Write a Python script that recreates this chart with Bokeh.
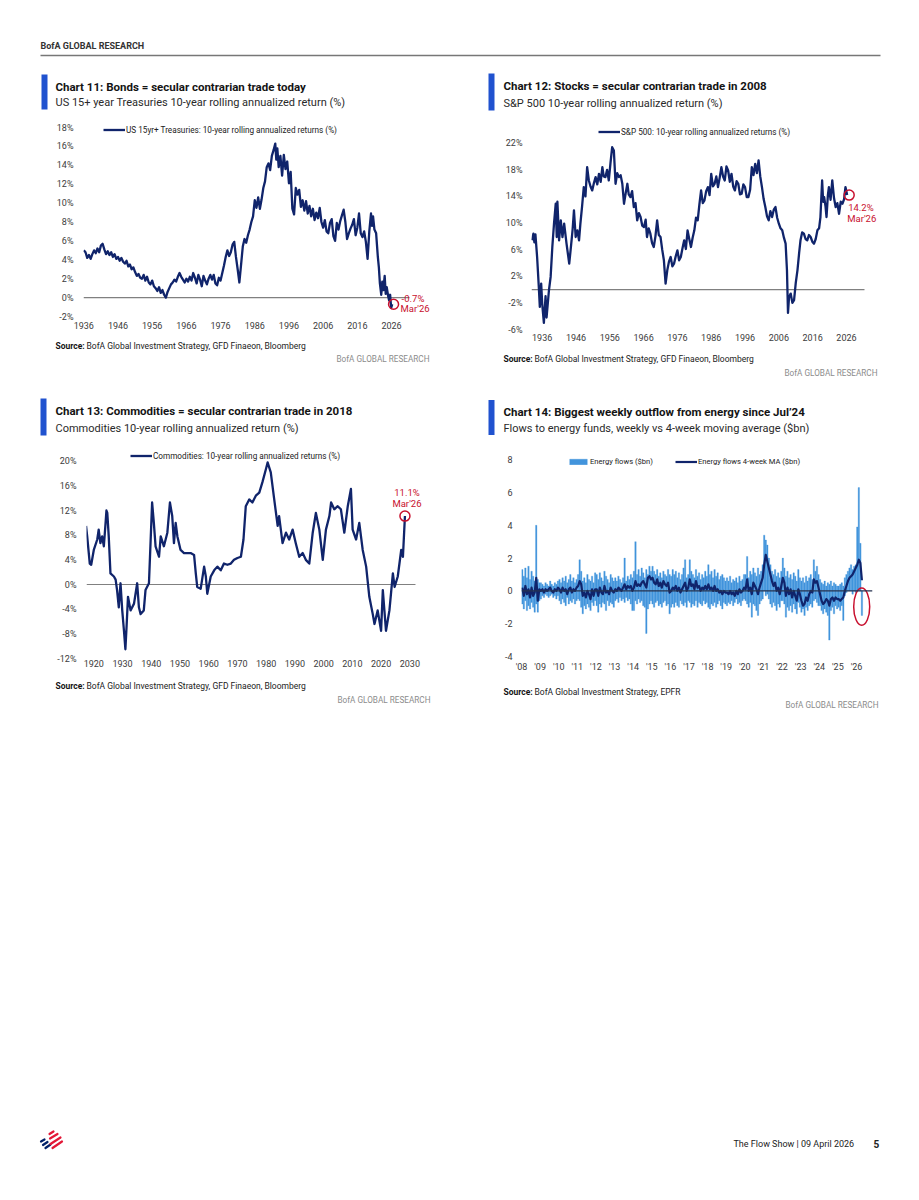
from bokeh.plotting import figure
from bokeh.layouts import column, row
from bokeh.models import Label, Span, Legend, LegendItem, FixedTicker, Range1d
from bokeh.core.properties import value
from bokeh.embed import file_html
from bokeh.resources import INLINE

FONT = "Roboto"
NAVY = "#10246b"
FLOW_BLUE = "#4294dc"
RED = "#c8102e"
ACCENT = "#2052cf"
TICK_TXT = "#3c3c3c"
TITLE_TXT = "#141414"
GRAY = "#8c8c8c"

# ---------------- Chart 11: US 15yr+ Treasuries ----------------
bond_years = [1936.0, 1936.5, 1937.0, 1937.5, 1938.0, 1938.5, 1939.0, 1939.5, 1940.0, 1940.5,
              1941.0, 1941.5, 1942.0, 1942.5, 1943.0, 1943.5, 1944.0, 1944.5, 1945.0, 1945.5,
              1946.0, 1946.5, 1947.0, 1947.5, 1948.0, 1948.5, 1949.0, 1949.5, 1950.0, 1950.5,
              1951.0, 1951.5, 1952.0, 1952.5, 1953.0, 1953.5, 1954.0, 1954.5, 1955.0, 1955.5,
              1956.0, 1956.5, 1957.0, 1957.5, 1958.0, 1958.5, 1959.0, 1959.5, 1960.0, 1960.5,
              1961.0, 1961.5, 1962.0, 1962.5, 1963.0, 1963.5, 1964.0, 1964.5, 1965.0, 1965.5,
              1966.0, 1966.5, 1967.0, 1967.5, 1968.0, 1968.5, 1969.0, 1969.5, 1970.0, 1970.5,
              1971.0, 1971.5, 1972.0, 1972.5, 1973.0, 1973.5, 1974.0, 1974.5, 1975.0, 1975.5,
              1976.0, 1976.5, 1977.0, 1977.5, 1978.0, 1978.5, 1979.0, 1979.5, 1980.0, 1980.5,
              1981.0, 1981.5, 1982.0, 1982.5, 1983.0, 1983.5, 1984.0, 1984.5, 1985.0, 1985.5,
              1986.0, 1986.5, 1987.0, 1987.5, 1988.0, 1988.5, 1989.0, 1989.5, 1990.0, 1990.5,
              1991.0, 1991.5, 1992.0, 1992.3, 1992.6, 1993.0, 1993.5, 1994.0, 1994.5, 1995.0,
              1995.5, 1996.0, 1996.5, 1997.0, 1997.5, 1998.0, 1998.5, 1999.0, 1999.5, 2000.0,
              2000.5, 2001.0, 2001.5, 2002.0, 2002.5, 2003.0, 2003.5, 2004.0, 2004.5, 2005.0,
              2005.5, 2006.0, 2006.5, 2007.0, 2007.5, 2008.0, 2008.5, 2009.0, 2009.5, 2010.0,
              2010.5, 2011.0, 2011.5, 2012.0, 2012.5, 2013.0, 2013.5, 2014.0, 2014.5, 2015.0,
              2015.5, 2016.0, 2016.5, 2017.0, 2017.5, 2018.0, 2018.5, 2019.0, 2019.5, 2020.0,
              2020.3, 2020.6, 2021.0, 2021.5, 2022.0, 2022.3, 2022.6, 2023.0, 2023.3, 2023.6,
              2024.0, 2024.3, 2024.6, 2025.0, 2025.3, 2025.6, 2025.9, 2026.2]
bond_returns = [5.0, 4.8, 4.2, 4.5, 4.1, 4.6, 5.0, 4.7, 5.2, 4.8,
                5.5, 5.7, 5.1, 4.6, 4.9, 4.5, 4.8, 4.3, 4.6, 4.1,
                4.3, 3.9, 4.2, 3.8, 3.6, 3.9, 3.3, 3.5, 3.0, 3.2,
                2.7, 2.3, 2.5, 2.1, 2.0, 2.4, 1.8, 2.2, 1.6, 1.4,
                1.8, 1.2, 1.0, 0.7, 1.1, 0.5, 0.8, 0.3, 0.0, 0.6,
                1.0, 1.4, 1.6, 1.9, 1.7, 2.2, 2.6, 2.2, 1.9, 1.6,
                2.0, 1.7, 2.2, 1.8, 2.6, 2.1, 1.5, 2.4, 1.9, 1.2,
                2.3, 1.8, 1.4, 2.0, 2.4, 1.9, 2.4, 1.5, 1.3, 2.1,
                1.8, 2.6, 3.4, 4.3, 5.0, 4.4, 4.8, 5.6, 5.9, 4.3,
                3.0, 1.6, 3.5, 5.4, 6.2, 5.8, 6.6, 7.2, 8.0, 8.6,
                10.3, 9.5, 10.6, 9.4, 10.4, 11.6, 12.3, 13.8, 14.2, 13.5,
                15.0, 15.6, 16.3, 14.6, 15.8, 13.8, 15.0, 12.9, 15.1, 13.6,
                14.4, 12.1, 13.3, 9.4, 8.8, 11.6, 10.9, 11.4, 9.6, 10.3,
                9.2, 10.2, 8.9, 9.7, 8.6, 9.4, 8.2, 9.0, 8.4, 9.5,
                8.0, 7.4, 8.2, 7.0, 6.8, 7.9, 8.3, 6.5, 6.0, 7.9,
                7.2, 8.1, 8.7, 9.3, 8.0, 6.2, 6.8, 7.3, 7.7, 8.3,
                6.6, 7.4, 8.9, 6.8, 6.4, 7.0, 5.9, 4.1, 7.0, 8.9,
                7.6, 8.6, 7.2, 6.8, 4.3, 3.2, 1.5, 0.3, 1.7, 0.8,
                2.3, 0.4, 1.1, 0.2, -0.3, 0.3, -1.1, -0.7]
bond_y_ticks = [-2, 0, 2, 4, 6, 8, 10, 12, 14, 16, 18]
bond_x_ticks = [1936, 1946, 1956, 1966, 1976, 1986, 1996, 2006, 2016, 2026]
bond_axis_span = (1935.91, 2031.26)
bond_last = (2026.6, -0.7)
bond_last_labels = ["-0.7%", "Mar'26"]

# ---------------- Chart 12: S&P 500 ----------------
spx_years = [1933.0, 1933.4, 1933.7, 1934.0, 1934.5, 1935.0, 1935.3, 1935.7, 1936.0, 1936.5,
             1937.0, 1937.3, 1938.0, 1938.5, 1939.0, 1939.5, 1940.0, 1940.3, 1940.5, 1941.0,
             1941.5, 1942.0, 1942.5, 1943.2, 1944.0, 1944.5, 1945.0, 1945.4, 1945.9, 1946.4,
             1946.9, 1947.3, 1947.8, 1948.3, 1948.8, 1949.3, 1949.8, 1950.3, 1950.8, 1951.3,
             1951.8, 1952.3, 1952.8, 1953.3, 1953.8, 1954.2, 1954.7, 1955.2, 1955.7, 1956.2,
             1956.7, 1957.2, 1957.7, 1958.2, 1958.7, 1959.2, 1959.7, 1960.2, 1960.7, 1961.2,
             1961.6, 1962.1, 1962.6, 1963.1, 1963.6, 1964.1, 1964.6, 1965.1, 1965.6, 1966.1,
             1966.6, 1967.0, 1967.5, 1968.0, 1968.5, 1969.0, 1969.5, 1970.0, 1970.5, 1971.0,
             1971.5, 1972.0, 1972.5, 1973.0, 1973.5, 1974.0, 1974.5, 1975.0, 1975.5, 1976.0,
             1976.5, 1977.0, 1977.5, 1978.0, 1978.5, 1979.0, 1979.5, 1980.0, 1980.5, 1981.0,
             1981.5, 1982.0, 1982.5, 1983.0, 1983.5, 1984.0, 1984.5, 1985.0, 1985.5, 1986.0,
             1986.5, 1987.0, 1987.5, 1988.0, 1988.5, 1989.0, 1989.5, 1990.0, 1990.5, 1991.0,
             1991.5, 1992.0, 1992.5, 1993.0, 1993.5, 1994.0, 1994.5, 1995.0, 1995.5, 1996.0,
             1996.5, 1997.0, 1997.5, 1998.0, 1998.5, 1999.0, 1999.5, 2000.0, 2000.5, 2001.0,
             2001.5, 2002.0, 2002.5, 2003.0, 2003.5, 2004.0, 2004.5, 2005.0, 2005.5, 2006.0,
             2006.5, 2007.0, 2007.5, 2008.0, 2008.4, 2008.7, 2009.0, 2009.5, 2010.0, 2010.5,
             2011.0, 2011.5, 2012.0, 2012.4, 2012.9, 2013.4, 2013.9, 2014.4, 2014.9, 2015.4,
             2015.9, 2016.4, 2016.9, 2017.4, 2017.9, 2018.3, 2018.8, 2019.1, 2019.4, 2019.8,
             2020.1, 2020.5, 2020.8, 2021.3, 2021.8, 2022.3, 2022.8, 2023.3, 2023.8, 2024.3,
             2024.8, 2025.3, 2025.7, 2026.2]
spx_returns = [7.4, 8.4, 7.1, 8.3, 4.9, 0.4, -2.6, 0.9, -2.1, -5.0,
               -1.0, -4.2, -0.1, 1.9, 6.4, 9.9, 12.9, 7.9, 13.2, 7.4,
               10.4, 7.9, 9.9, 6.9, 3.9, 6.4, 9.0, 11.9, 7.9, 8.9,
               7.4, 9.9, 12.5, 15.4, 14.0, 18.4, 16.4, 15.5, 14.9, 16.0,
               16.9, 15.8, 17.4, 16.2, 18.4, 17.0, 16.9, 18.0, 16.4, 19.0,
               21.4, 20.9, 15.9, 17.5, 16.9, 17.2, 15.9, 12.9, 14.5, 15.9,
               14.3, 13.9, 14.8, 12.4, 13.0, 10.4, 11.5, 10.9, 9.6, 9.4,
               10.5, 7.9, 9.2, 8.4, 7.0, 6.4, 8.0, 10.4, 8.2, 7.9,
               6.0, 4.4, 0.9, 2.9, 4.2, 4.9, 3.5, 3.9, 5.0, 5.9,
               4.4, 4.9, 6.2, 7.4, 6.1, 8.9, 7.6, 6.4, 7.8, 8.9,
               10.8, 10.4, 12.8, 14.9, 13.0, 13.4, 14.8, 15.4, 14.2, 17.4,
               15.5, 15.9, 17.0, 15.4, 16.8, 18.4, 17.0, 16.4, 18.5, 17.9,
               16.2, 17.4, 15.5, 14.9, 16.3, 15.9, 14.3, 14.4, 15.8, 15.4,
               13.9, 13.9, 15.0, 18.4, 17.2, 18.9, 17.5, 19.4, 17.0, 15.4,
               13.6, 12.4, 11.0, 10.4, 11.8, 10.9, 12.0, 12.4, 10.8, 9.9,
               9.2, 8.9, 7.8, 6.9, 2.9, -3.5, -1.2, -0.6, -2.0, -1.6,
               1.0, 2.9, 5.5, 7.4, 8.6, 8.4, 7.6, 7.4, 8.2, 7.9,
               7.2, 6.9, 7.6, 8.9, 9.2, 10.9, 16.4, 13.2, 13.9, 12.5,
               10.9, 14.2, 15.4, 13.5, 16.4, 13.8, 12.4, 13.0, 11.4, 13.2,
               12.9, 13.6, 15.4, 14.2]
spx_y_ticks = [-6, -2, 2, 6, 10, 14, 18, 22]
spx_x_ticks = [1936, 1946, 1956, 1966, 1976, 1986, 1996, 2006, 2016, 2026]
spx_axis_span = (1932.84, 2031.33)
spx_last = (2026.8, 14.2)
spx_last_labels = ["14.2%", "Mar'26"]

# ---------------- Chart 13: Commodities ----------------
cmd_years = [1917.3, 1917.7, 1918.6, 1919.1, 1920.0, 1921.2, 1921.7, 1922.3, 1922.9, 1923.5,
             1924.1, 1924.4, 1924.7, 1925.2, 1925.8, 1927.0, 1927.6, 1928.1, 1928.7, 1929.3,
             1929.9, 1930.5, 1931.0, 1931.4, 1931.9, 1932.8, 1934.0, 1935.1, 1935.7, 1936.3,
             1937.4, 1938.0, 1939.2, 1940.3, 1940.9, 1941.5, 1942.7, 1943.3, 1944.4, 1945.6,
             1946.5, 1947.3, 1947.9, 1948.5, 1949.1, 1950.2, 1951.4, 1952.6, 1953.7, 1954.9,
             1955.5, 1956.0, 1957.2, 1958.4, 1959.0, 1959.5, 1960.7, 1961.9, 1963.0, 1964.2,
             1965.3, 1966.5, 1967.7, 1968.8, 1970.0, 1971.2, 1972.1, 1972.9, 1974.1, 1975.2,
             1976.4, 1977.6, 1978.7, 1979.9, 1980.5, 1981.6, 1982.8, 1984.0, 1984.5, 1985.7,
             1986.9, 1988.0, 1989.2, 1990.3, 1991.5, 1992.7, 1993.8, 1995.0, 1996.2, 1997.3,
             1998.5, 1999.7, 2000.8, 2002.0, 2002.6, 2003.7, 2004.9, 2006.0, 2007.2, 2008.4,
             2009.5, 2010.1, 2011.3, 2012.4, 2013.6, 2014.8, 2015.9, 2017.1, 2017.7, 2018.8,
             2020.0, 2020.6, 2021.7, 2022.9, 2024.1, 2024.7, 2025.8, 2027.0, 2027.6, 2028.3]
cmd_returns = [9.5, 7.8, 3.4, 3.2, 5.6, 7.3, 8.9, 6.7, 7.8, 6.2,
               10.0, 12.0, 11.6, 7.8, 1.8, 1.3, 0.8, -0.9, -3.7, 0.2,
               -4.2, -7.5, -10.5, -6.9, -2.0, -4.2, -3.1, 0.2, -3.7, -4.8,
               -4.2, -0.9, 0.2, 13.3, 10.0, 6.2, 4.5, 7.8, 6.2, 8.4,
               13.3, 11.1, 6.7, 10.0, 7.8, 5.6, 5.1, 5.1, 5.1, 4.8,
               1.8, -0.4, -0.7, 2.9, 1.3, -1.5, 1.3, 2.3, 2.9, 2.3,
               3.4, 3.2, 3.4, 4.0, 4.3, 4.5, 7.3, 12.7, 13.8, 13.3,
               14.4, 14.9, 16.6, 18.7, 19.8, 18.2, 13.8, 9.5, 11.1, 6.7,
               8.4, 7.3, 8.9, 6.7, 4.5, 5.1, 4.0, 3.4, 8.4, 11.6,
               8.9, 4.0, 8.9, 11.1, 13.3, 12.2, 12.7, 12.2, 8.4, 12.7,
               15.5, 8.9, 7.3, 10.0, 5.6, 2.9, -2.0, -4.8, -6.4, -4.2,
               -7.5, -0.9, -7.5, -4.2, 1.8, -0.4, 1.3, 5.6, 4.5, 11.1]
cmd_y_ticks = [-12, -8, -4, 0, 4, 8, 12, 16, 20]
cmd_x_ticks = [1920, 1930, 1940, 1950, 1960, 1970, 1980, 1990, 2000, 2010, 2020, 2030]
cmd_axis_span = (1917.46, 2031.97)
cmd_last = (2028.3, 11.1)
cmd_last_labels = ["11.1%", "Mar'26"]

# ---------------- Chart 14: Energy fund flows ($bn): monthly range of weekly flows + 4wk MA ----------------
energy_start_year = 2008
energy_flow_high = [
    1.3, 0.9, 1.4, 0.8, 1.5, 0.7, 1.2, 0.9, 0.6, 4.0, 0.7, 0.5,   # 2008
    0.5, 0.4, 0.3, 0.5, 0.4, 0.3, 0.6, 0.4, 0.3, 0.5, 0.4, 0.6,   # 2009
    0.7, 0.5, 0.8, 0.6, 0.9, 0.5, 0.7, 1.0, 0.6, 0.8, 0.5, 0.7,   # 2010
    1.0, 1.9, 1.2, 0.6, 0.8, 0.5, 1.0, 0.7, 0.6, 0.9, 0.5, 1.1,   # 2011
    1.0, 0.7, 1.1, 0.8, 0.6, 1.2, 0.9, 0.7, 0.5, 1.0, 0.8, 0.6,   # 2012
    0.8, 0.6, 0.9, 0.7, 0.5, 0.8, 2.0, 0.6, 0.9, 0.7, 1.0, 0.8,   # 2013
    1.2, 3.0, 1.0, 1.3, 0.9, 1.4, 1.1, 0.8, 1.3, 1.0, 1.5, 1.2,   # 2014
    1.5, 1.2, 1.0, 1.3, 0.9, 1.1, 0.8, 1.2, 1.0, 0.9, 1.3, 1.0,   # 2015
    0.9, 1.3, 1.0, 1.2, 0.8, 1.1, 0.7, 1.0, 1.4, 1.9, 0.8, 1.0,   # 2016
    1.9, 1.2, 1.0, 0.8, 1.3, 0.9, 1.1, 0.7, 1.0, 0.8, 1.2, 0.9,   # 2017
    1.6, 1.0, 1.2, 0.8, 1.3, 0.9, 1.1, 0.7, 0.9, 1.0, 0.8, 0.6,   # 2018
    0.8, 0.6, 0.9, 0.5, 0.7, 0.6, 0.8, 0.5, 0.9, 0.6, 0.7, 1.0,   # 2019
    1.0, 2.1, 0.8, 1.2, 1.0, 1.4, 1.1, 0.9, 1.4, 1.0, 1.2, 1.6,   # 2020
    3.4, 3.1, 2.8, 2.0, 1.6, 1.2, 1.0, 1.3, 0.9, 1.1, 0.8, 1.2,   # 2021
    2.0, 1.4, 0.9, 1.2, 0.8, 1.0, 0.7, 1.1, 0.9, 0.6, 1.3, 0.8,   # 2022
    0.6, 0.8, 0.5, 0.9, 0.6, 0.8, 1.0, 0.7, 1.9, 1.2, 1.5, 1.0,   # 2023
    0.7, 0.5, 0.4, 0.6, 0.3, 0.5, 0.4, 0.6, 0.3, 0.5, 0.4, 0.3,   # 2024
    0.3, 0.4, 0.5, 0.3, 0.8, 1.0, 1.2, 1.4, 1.6, 1.3, 1.5, 1.6,   # 2025
    3.9, 6.3, 2.9, 0.0,                                           # 2026
]
energy_flow_low = [
    -0.8, -1.1, -0.6, -1.2, -0.9, -1.1, -0.7, -1.0, -1.3, -0.8, -1.3, -0.6,
    -0.5, -0.3, -0.4, -0.2, -0.3, -0.4, -0.3, -0.2, -0.4, -0.3, -0.5, -0.3,
    -0.6, -0.8, -0.5, -0.7, -0.9, -0.4, -0.8, -0.6, -0.7, -0.5, -0.8, -0.6,
    -0.5, -0.6, -1.0, -1.4, -0.9, -1.1, -0.8, -1.0, -1.2, -0.7, -0.9, -0.6,
    -0.9, -1.3, -0.8, -1.0, -0.7, -0.8, -1.2, -0.6, -0.9, -0.7, -0.8, -1.0,
    -0.6, -0.5, -0.7, -0.4, -0.6, -0.5, -0.7, -0.4, -0.6, -0.5, -0.8, -1.2,
    -1.2, -0.6, -0.8, -0.5, -0.7, -0.6, -0.9, -1.0, -2.6, -1.1, -0.8, -0.6,
    -0.8, -1.0, -0.7, -0.6, -0.9, -0.8, -1.0, -0.7, -0.6, -0.9, -0.8, -1.4,
    -1.0, -0.8, -1.0, -0.7, -0.9, -1.0, -0.6, -0.8, -0.9, -0.7, -1.0, -0.6,
    -0.7, -1.0, -0.8, -0.9, -0.6, -1.0, -0.7, -0.8, -0.9, -0.6, -0.8, -0.7,
    -1.0, -1.1, -0.8, -0.9, -0.7, -1.0, -0.8, -0.6, -0.9, -1.1, -0.7, -0.8,
    -0.9, -0.7, -0.8, -0.6, -0.9, -0.7, -0.5, -0.8, -0.7, -0.9, -0.6, -0.5,
    -0.6, -0.8, -1.0, -0.7, -1.6, -0.8, -0.9, -1.2, -1.5, -0.8, -0.6, -0.5,
    0.0, -0.3, -0.2, -0.5, -0.8, -1.0, -0.7, -0.9, -1.2, -0.8, -1.0, -0.6,
    -0.6, -0.8, -1.6, -1.0, -1.2, -0.9, -1.3, -0.8, -1.1, -1.4, -0.7, -1.0,
    -1.3, -1.1, -1.5, -1.0, -1.2, -0.9, -0.8, -1.0, -0.6, -0.5, -0.7, -0.9,
    -0.9, -1.2, -1.4, -1.1, -1.3, -1.5, -3.0, -1.2, -1.0, -1.4, -0.9, -1.1,
    -1.0, -1.2, -0.9, -1.8, -0.3, -0.1, 0.0, 0.0, 0.0, -0.2, 0.0, -0.1,
    0.0, 0.0, 0.0, -1.5,
]
energy_flow_ma = [
    0.2, -0.3, 0.3, -0.2, 0.1, -0.4, 0.2, -0.3, -0.1, 0.8, -0.6, 0.1,
    0.0, 0.1, -0.1, 0.1, 0.0, 0.1, 0.2, 0.0, -0.1, 0.1, 0.0, 0.2,
    0.1, -0.1, 0.2, 0.0, 0.1, -0.2, 0.1, 0.2, -0.1, 0.1, 0.0, 0.2,
    0.3, 0.6, 0.4, -0.3, -0.1, -0.4, 0.0, -0.2, -0.5, 0.1, -0.3, 0.1,
    0.1, -0.3, 0.2, -0.1, -0.2, 0.3, -0.1, 0.0, -0.2, 0.2, 0.0, -0.1,
    0.1, 0.0, 0.2, 0.1, 0.0, 0.2, 0.4, 0.1, 0.3, 0.2, 0.3, 0.0,
    0.2, 0.6, 0.3, 0.4, 0.3, 0.5, 0.6, 0.4, 0.2, 0.8, 0.9, 0.7,
    0.8, 0.5, 0.4, 0.7, 0.3, 0.5, 0.2, 0.6, 0.4, 0.3, 0.5, -0.1,
    0.0, 0.2, 0.1, 0.3, 0.0, 0.2, -0.1, 0.1, 0.3, 0.5, 0.0, 0.2,
    0.7, 0.3, 0.4, 0.1, 0.6, 0.2, 0.3, 0.0, 0.2, 0.1, 0.3, 0.1,
    0.4, 0.1, 0.2, 0.0, 0.3, 0.0, 0.1, -0.1, 0.0, -0.2, 0.0, -0.1,
    -0.1, -0.2, 0.0, -0.2, -0.1, -0.3, 0.0, -0.2, 0.1, -0.1, 0.0, 0.2,
    0.1, 0.7, 0.0, 0.2, -0.2, 0.5, 0.3, 0.1, -0.2, 0.2, 0.5, 0.8,
    1.6, 2.2, 1.8, 1.4, 1.0, 0.6, 0.3, 0.5, 0.0, 0.2, -0.2, 0.3,
    0.8, 0.5, -0.3, 0.2, -0.2, 0.1, -0.4, 0.0, -0.3, -0.6, 0.1, -0.2,
    -0.6, -0.9, -0.8, -0.4, -0.6, -0.2, 0.0, -0.1, 0.7, 0.5, 0.6, 0.2,
    -0.2, -0.6, -0.8, -0.7, -0.5, -0.6, -0.9, -0.5, -0.4, -0.6, -0.4, -0.5,
    -0.5, -0.6, -0.5, -0.4, 0.0, 0.3, 0.6, 0.8, 0.9, 1.0, 1.2, 1.4,
    1.6, 1.9, 1.7, 0.65,
]
energy_y_ticks = [-4, -2, 0, 2, 4, 6, 8]
energy_x_ticks = list(range(2008, 2027))
energy_x_labels = ["'%02d" % (y % 100) for y in energy_x_ticks]
energy_last = (2026.28, -0.96)

# ---------------- texts ----------------
titles = ["Chart 11: Bonds = secular contrarian trade today",
          "Chart 12: Stocks = secular contrarian trade in 2008",
          "Chart 13: Commodities = secular contrarian trade in 2018",
          "Chart 14: Biggest weekly outflow from energy since Jul\u201924"]
subtitles = ["US 15+ year Treasuries 10-year rolling annualized return (%)",
             "S&P 500 10-year rolling annualized return (%)",
             "Commodities 10-year rolling annualized return (%)",
             "Flows to energy funds, weekly vs 4-week moving average ($bn)"]
sources = ["BofA Global Investment Strategy, GFD Finaeon, Bloomberg",
           "BofA Global Investment Strategy, GFD Finaeon, Bloomberg",
           "BofA Global Investment Strategy, GFD Finaeon, Bloomberg",
           "BofA Global Investment Strategy, EPFR"]

# ---------------- page layout (page pixel geometry) ----------------
PAGE_W = 919
LEFT_W, RIGHT_W = 459, 460


def no_align(p):
    if "frame_align" in p.properties():
        p.frame_align = False
    return p


def blank(w, h, ox, oy):
    p = figure(width=w, height=h, x_range=Range1d(ox, ox + w), y_range=Range1d(oy + h, oy),
               output_backend="svg", toolbar_location=None, title=None,
               x_axis_type=None, y_axis_type=None, min_border=0)
    p.outline_line_color = None
    p.grid.visible = False
    p.background_fill_color = "white"
    p.border_fill_color = "white"
    return no_align(p)


def txt(p, x, y, text, size=8, color=TITLE_TXT, bold=False, align="left"):
    p.text(x=[x], y=[y], text=[text], text_font=value(FONT), text_font_size=f"{size}px",
           text_font_style="bold" if bold else "normal", text_color=color,
           text_align=align, text_baseline="middle")


def make_chart(w, h, ox, oy, frame, xr, yr):
    fl, fr, ft, fb = frame
    p = figure(width=w, height=h, x_range=Range1d(*xr), y_range=Range1d(*yr),
               output_backend="svg", toolbar_location=None, title=None,
               min_border_left=fl - ox, min_border_right=ox + w - fr,
               min_border_top=ft - oy, min_border_bottom=oy + h - fb)
    p.outline_line_color = None
    p.grid.visible = False
    p.background_fill_color = "white"
    p.border_fill_color = "white"
    for ax in (p.xaxis[0], p.yaxis[0]):
        ax.axis_line_color = None
        ax.major_tick_line_color = None
        ax.minor_tick_line_color = None
        ax.major_tick_out = 0
        ax.major_tick_in = 0
        ax.major_label_text_font = FONT
        ax.major_label_text_font_size = "9px"
        ax.major_label_text_color = TICK_TXT
    p._geo = dict(fl=fl, fb=fb)
    return no_align(p)


def set_ticks(p, xt, yt, xlabels=None, ylabels=None, xstand=5, ystand=9):
    p.xaxis.ticker = FixedTicker(ticks=xt)
    p.yaxis.ticker = FixedTicker(ticks=yt)
    p.xaxis.major_label_overrides = {t: (xlabels[i] if xlabels else str(t)) for i, t in enumerate(xt)}
    p.yaxis.major_label_overrides = {t: (ylabels[i] if ylabels else str(t)) for i, t in enumerate(yt)}
    p.xaxis.major_label_standoff = xstand
    p.yaxis.major_label_standoff = ystand


def add_legend(p, items, glyph_x, center_y, horizontal=False, size=8.2):
    leg = Legend(items=items)
    p.add_layout(leg)
    leg.location = (glyph_x - p._geo["fl"], p._geo["fb"] - (center_y + 4.5))
    leg.border_line_color = None
    leg.background_fill_alpha = 0
    leg.padding = 0
    leg.margin = 0
    leg.spacing = 22
    leg.glyph_width = 22
    leg.glyph_height = 7
    leg.label_height = 9
    leg.label_standoff = 1
    leg.label_text_font = FONT
    leg.label_text_font_size = f"{size}px"
    leg.label_text_color = "#222222"
    if horizontal:
        leg.orientation = "horizontal"
    return leg


def title_fig(w, h, ox, oy, bar_x, tx, ty, sub_dy, i):
    p = blank(w, h, ox, oy)
    p.quad(left=[bar_x], right=[bar_x + 6], top=[ty - 12], bottom=[ty + sub_dy + 7],
           fill_color=ACCENT, line_color=None)
    txt(p, tx, ty, titles[i], size=11.5, bold=True)
    txt(p, tx, ty + sub_dy, subtitles[i], size=11, color="#2a2a2a")
    return p


def source_fig(w, h, ox, oy, sx, sy, wx, wy, i):
    p = blank(w, h, ox, oy)
    txt(p, sx, sy, "Source:", size=8.5, bold=True)
    txt(p, sx + 31, sy, sources[i], size=8.5, color="#222222")
    txt(p, wx, wy, "BofA GLOBAL RESEARCH", size=8.2, color=GRAY, align="right")
    return p


def mark_last(p, pt, labels, offsets, align="left"):
    p.scatter([pt[0]], [pt[1]], marker="circle", size=10, fill_color=None, line_color=RED, line_width=1.5)
    for text, (dx, dy) in zip(labels, offsets):
        p.add_layout(Label(x=pt[0], y=pt[1], text=text, x_offset=dx, y_offset=dy,
                           text_font=FONT, text_font_size="9.5px", text_color=RED,
                           text_align=align, text_baseline="middle"))


# ---------------- header ----------------
hdr = blank(PAGE_W, 62, 0, 0)
txt(hdr, 40, 45, "BofA GLOBAL RESEARCH", size=9, bold=True, color="#333333")
hdr.segment(x0=[40], y0=[55], x1=[880], y1=[55], line_color="#777777", line_width=1.3)

# ---------------- Chart 11 ----------------
t11 = title_fig(LEFT_W, 56, 0, 62, 41, 55, 86, 16, 0)
p11 = make_chart(LEFT_W, 220, 0, 118, (83, 432, 120, 316),
                 (bond_axis_span[0], bond_axis_span[0] + (432 - 83) / 3.419), (-2, 18 + 7 / 9.45))
set_ticks(p11, bond_x_ticks, bond_y_ticks, ylabels=[f"{t}%" for t in bond_y_ticks], xstand=5, ystand=10)
p11.segment(x0=[bond_axis_span[0]], x1=[bond_axis_span[1]], y0=[0], y1=[0], line_color="#808080", line_width=1.2)
r11 = p11.line(bond_years, bond_returns, line_color=NAVY, line_width=2.3, line_join="round")
add_legend(p11, [LegendItem(label="US 15yr+ Treasuries: 10-year rolling annualized returns (%)", renderers=[r11])], 103, 130)
mark_last(p11, bond_last, bond_last_labels, [(8, 6), (7, -4)])
s11 = source_fig(LEFT_W, 52, 0, 338, 55, 345, 429, 358, 0)

# ---------------- Chart 12 ----------------
t12 = title_fig(RIGHT_W, 56, 459, 62, 488, 503, 85, 18, 1)
p12 = make_chart(RIGHT_W, 232, 459, 118, (531, 880, 122, 329),
                 (spx_axis_span[0], spx_axis_span[0] + (880 - 531) / 3.381), (-6, -6 + (329 - 122) / 6.654))
set_ticks(p12, spx_x_ticks, spx_y_ticks, ylabels=[f"{t}%" for t in spx_y_ticks], xstand=4, ystand=9)
p12.segment(x0=[spx_axis_span[0]], x1=[spx_axis_span[1]], y0=[0], y1=[0], line_color="#808080", line_width=1.2)
r12 = p12.line(spx_years, spx_returns, line_color=NAVY, line_width=2.3, line_join="round")
add_legend(p12, [LegendItem(label="S&P 500: 10-year rolling annualized returns (%)", renderers=[r12])], 598, 132)
mark_last(p12, spx_last, spx_last_labels, [(-1, -12), (-2, -23)])
s12 = source_fig(RIGHT_W, 40, 459, 350, 503, 358, 877, 372, 1)

# ---------------- Chart 13 ----------------
t13 = title_fig(LEFT_W, 54, 0, 390, 40, 55, 410, 18, 2)
p13 = make_chart(LEFT_W, 232, 0, 444, (86, 432, 446, 658),
                 (cmd_axis_span[0], cmd_axis_span[0] + (432 - 86) / 2.873), (-12, -12 + (658 - 446) / 6.166))
set_ticks(p13, cmd_x_ticks, cmd_y_ticks, ylabels=[f"{t}%" for t in cmd_y_ticks], xstand=1, ystand=10)
p13.segment(x0=[cmd_axis_span[0]], x1=[cmd_axis_span[1]], y0=[0], y1=[0], line_color="#808080", line_width=1.2)
r13 = p13.line(cmd_years, cmd_returns, line_color=NAVY, line_width=2.3, line_join="round")
add_legend(p13, [LegendItem(label="Commodities: 10-year rolling annualized returns (%)", renderers=[r13])], 130, 456)
mark_last(p13, cmd_last, cmd_last_labels, [(2, 24), (2, 13)], align="center")
s13 = source_fig(LEFT_W, 44, 0, 676, 55, 685, 430, 699, 2)

# ---------------- Chart 14 ----------------
t14 = title_fig(RIGHT_W, 54, 459, 390, 488, 503, 411.5, 16, 3)
p14 = make_chart(RIGHT_W, 236, 459, 444, (521, 872, 449, 656),
                 (2008.0, 2026.86), (-4, -4 + (656 - 449) / 16.4))
set_ticks(p14, energy_x_ticks, energy_y_ticks, xlabels=energy_x_labels, xstand=5, ystand=9)
energy_x = [energy_start_year + (i + 0.5) / 12 for i in range(len(energy_flow_high))]
r14b = p14.vbar(x=energy_x, width=0.92 / 12, top=energy_flow_high, bottom=energy_flow_low,
                fill_color=FLOW_BLUE, line_color=FLOW_BLUE, line_width=0.3)
p14.add_layout(Span(location=0, dimension="width", line_color="#26324f", line_width=1.2))
r14l = p14.line(energy_x, energy_flow_ma, line_color=NAVY, line_width=2.2, line_join="round")
add_legend(p14, [LegendItem(label="Energy flows ($bn)", renderers=[r14b]),
                 LegendItem(label="Energy flows 4-week MA ($bn)", renderers=[r14l])], 567, 461,
           horizontal=True, size=7.6)
p14.ellipse(x=[energy_last[0]], y=[energy_last[1]], width=0.86, height=2.26,
            fill_color=None, line_color=RED, line_width=1.5)
s14 = source_fig(RIGHT_W, 40, 459, 680, 503, 691, 878, 704, 3)

# ---------------- footer ----------------
ftr = blank(PAGE_W, 480, 0, 720)
logo_navy = [((40.5, 1141.0), (44.0, 1139.0)), ((42.5, 1144.5), (47.0, 1141.5)), ((45.0, 1147.5), (50.0, 1144.0))]
logo_red = [((49.0, 1133.5), (53.0, 1131.0)), ((49.5, 1138.0), (57.0, 1133.5)),
            ((50.0, 1143.5), (60.0, 1137.0)), ((52.0, 1147.5), (61.5, 1141.0))]
for segs, col in ((logo_navy, "#012169"), (logo_red, "#e31837")):
    ftr.segment(x0=[a[0] for a, b in segs], y0=[a[1] for a, b in segs],
                x1=[b[0] for a, b in segs], y1=[b[1] for a, b in segs],
                line_color=col, line_width=2.2, line_cap="round")
txt(ftr, 733, 1143, "The Flow Show | 09 April 2026", size=9, color="#222222")
txt(ftr, 873, 1143, "5", size=10, bold=True, color="#222222")

layout = column(hdr,
                row(column(t11, p11, s11), column(t12, p12, s12)),
                row(column(t13, p13, s13), column(t14, p14, s14)),
                ftr)
open("out.html", "w").write(file_html(layout, INLINE))
